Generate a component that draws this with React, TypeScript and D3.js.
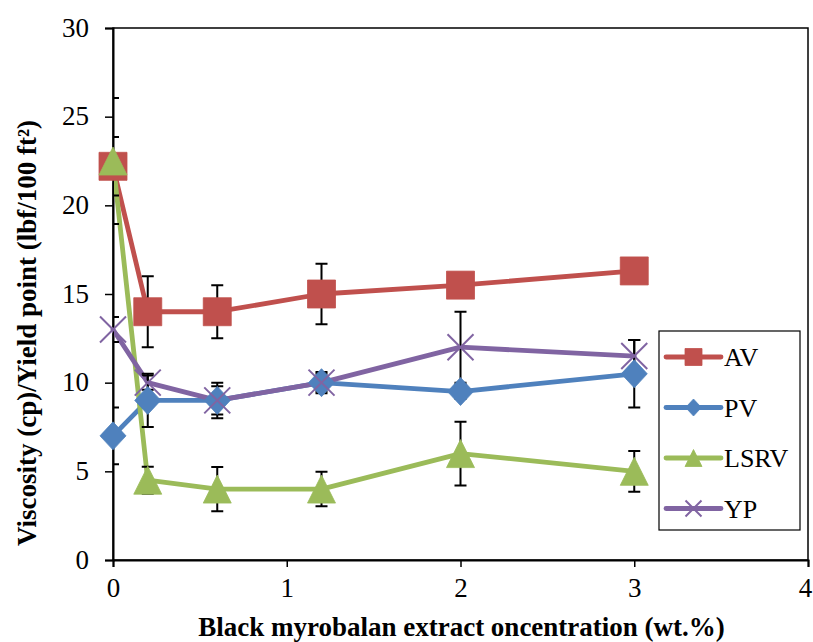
import React, { useEffect, useRef } from "react";
import * as d3 from "d3";

// Black myrobalan extract concentration (wt.%)
const concentrations = [0, 0.2, 0.6, 1.2, 2, 3];

// Rheological properties with standard deviations
const avValues = [22.2, 14, 14, 15, 15.5, 16.3];
const avErrors = [1.65, 2.0, 1.5, 1.7, 0.3, 0.3];
const pvValues = [7, 9, 9, 10, 9.5, 10.5];
const pvErrors = [1.6, 1.5, 1.0, 0.5, 0.4, 1.9];
const lsrvValues = [22.5, 4.5, 4, 4, 6, 5];
const lsrvErrors = [3.55, 0.76, 1.25, 0.97, 1.8, 1.15];
const ypValues = [13, 10, 9, 10, 12, 11.5];
const ypErrors = [0.7, 0.4, 0.8, 0.6, 2.0, 0.9];

const seriesNames = ["AV", "PV", "LSRV", "YP"];
const seriesColors = ["#C0504D", "#4F81BD", "#9BBB59", "#8064A2"];
const seriesMarkers = ["square", "diamond", "triangle", "cross"];

const xTicks = [0, 1, 2, 3, 4];
const yTicks = [0, 5, 10, 15, 20, 25, 30];

const xTitle = "Black myrobalan extract oncentration (wt.%)";
const yTitle = "Viscosity (cp)/Yield point (lbf/100 ft²)";

const W = 813;
const H = 642;
const plot = { left: 113, right: 808, top: 28, bottom: 560 };
const FONT = "'Liberation Serif', 'Times New Roman', serif";

function markerPath(kind: string, s: number): string {
  // s = half-size of the marker
  if (kind === "square") return `M${-s},${-s}H${s}V${s}H${-s}Z`;
  if (kind === "diamond") return `M0,${-s}L${s * 0.93},0L0,${s}L${-s * 0.93},0Z`;
  if (kind === "triangle") return `M0,${-s}L${s},${s}L${-s},${s}Z`;
  return `M${-s},${-s}L${s},${s}M${-s},${s}L${s},${-s}`;
}

function drawMarker(
  g: d3.Selection<SVGGElement, unknown, null, undefined>,
  kind: string,
  color: string,
  x: number,
  y: number,
  s: number
) {
  const p = g
    .append("path")
    .attr("d", markerPath(kind, s))
    .attr("transform", `translate(${x},${y})`);
  if (kind === "cross") {
    p.attr("fill", "none").attr("stroke", color).attr("stroke-width", 2);
  } else {
    p.attr("fill", color).attr("stroke", color).attr("stroke-width", 0.8);
  }
}

export default function App() {
  const ref = useRef<SVGSVGElement | null>(null);

  useEffect(() => {
    const svg = d3.select(ref.current);
    svg.selectAll("*").remove();

    const x = d3.scaleLinear().domain([0, 4]).range([plot.left, plot.right]);
    const y = d3.scaleLinear().domain([0, 30]).range([plot.bottom, plot.top]);

    const series = [
      { values: avValues, errors: avErrors },
      { values: pvValues, errors: pvErrors },
      { values: lsrvValues, errors: lsrvErrors },
      { values: ypValues, errors: ypErrors },
    ];

    svg
      .append("defs")
      .append("clipPath")
      .attr("id", "plot-clip")
      .append("rect")
      .attr("x", plot.left)
      .attr("y", plot.top)
      .attr("width", plot.right - plot.left)
      .attr("height", plot.bottom - plot.top);

    // Frame around the plot area
    svg
      .append("rect")
      .attr("x", plot.left)
      .attr("y", plot.top)
      .attr("width", plot.right - plot.left)
      .attr("height", plot.bottom - plot.top)
      .attr("fill", "white")
      .attr("stroke", "black")
      .attr("stroke-width", 1.5);

    // Axes
    const yAxis = svg
      .append("g")
      .attr("transform", `translate(${plot.left},0)`)
      .call(d3.axisLeft(y).tickValues(yTicks).tickSize(8).tickFormat(d3.format("d")));
    yAxis.select(".domain").attr("stroke", "black").attr("stroke-width", 2);
    yAxis.selectAll(".tick line").attr("stroke", "black").attr("stroke-width", 1.5);
    yAxis
      .selectAll(".tick text")
      .attr("x", -24)
      .attr("dy", "0.3em")
      .attr("font-family", FONT)
      .attr("font-size", 27)
      .attr("fill", "black");

    const xAxis = svg
      .append("g")
      .attr("transform", `translate(0,${plot.bottom})`)
      .call(d3.axisBottom(x).tickValues(xTicks).tickSize(7).tickFormat(d3.format("d")));
    xAxis.select(".domain").attr("stroke", "black").attr("stroke-width", 2);
    xAxis.selectAll(".tick line").attr("stroke", "black").attr("stroke-width", 1.5);
    xAxis
      .selectAll<SVGTextElement, number>(".tick text")
      .attr("y", 18)
      .attr("x", (d) => (d === 4 ? -3 : 0))
      .attr("dy", "0.71em")
      .attr("font-family", FONT)
      .attr("font-size", 27)
      .attr("fill", "black");
    svg.selectAll(".domain").attr("fill", "none");

    const line = d3
      .line<number>()
      .x((_, i) => x(concentrations[i]))
      .y((d) => y(d));

    // Series lines
    const linesG = svg.append("g");
    series.forEach((s, k) => {
      linesG
        .append("path")
        .attr("d", line(s.values) as string)
        .attr("fill", "none")
        .attr("stroke", seriesColors[k])
        .attr("stroke-width", 4.8)
        .attr("stroke-linejoin", "round")
        .attr("stroke-linecap", "round");
    });

    // Error bars
    const errG = svg.append("g").attr("clip-path", "url(#plot-clip)");
    series.forEach((s) => {
      s.values.forEach((v, i) => {
        const cx = x(concentrations[i]);
        const y1 = y(v + s.errors[i]);
        const y0 = y(v - s.errors[i]);
        errG
          .append("path")
          .attr("d", `M${cx},${y1}V${y0}M${cx - 6},${y1}H${cx + 6}M${cx - 6},${y0}H${cx + 6}`)
          .attr("stroke", "black")
          .attr("stroke-width", 2)
          .attr("fill", "none");
      });
    });

    // Markers
    const markG = svg.append("g");
    series.forEach((s, k) => {
      const size = seriesMarkers[k] === "cross" ? 13 : 14;
      s.values.forEach((v, i) => {
        drawMarker(markG, seriesMarkers[k], seriesColors[k], x(concentrations[i]), y(v), size);
      });
    });

    // Legend
    const legend = svg.append("g");
    legend
      .append("rect")
      .attr("x", 659)
      .attr("y", 331)
      .attr("width", 141)
      .attr("height", 199)
      .attr("fill", "white")
      .attr("stroke", "black")
      .attr("stroke-width", 1.2);
    seriesNames.forEach((name, k) => {
      const cy = 357 + k * 50.5;
      legend
        .append("line")
        .attr("x1", 666)
        .attr("x2", 721)
        .attr("y1", cy)
        .attr("y2", cy)
        .attr("stroke", seriesColors[k])
        .attr("stroke-width", 4.8)
        .attr("stroke-linecap", "round");
      drawMarker(legend, seriesMarkers[k], seriesColors[k], 693.5, cy, seriesMarkers[k] === "cross" ? 8 : 8.5);
      legend
        .append("text")
        .attr("x", 724)
        .attr("y", cy + 9)
        .attr("font-family", FONT)
        .attr("font-size", 26)
        .attr("fill", "black")
        .text(name);
    });

    // Axis titles
    svg
      .append("text")
      .attr("x", (plot.left + plot.right) / 2 + 1)
      .attr("y", 636)
      .attr("text-anchor", "middle")
      .attr("font-family", FONT)
      .attr("font-weight", "bold")
      .attr("font-size", 27)
      .attr("fill", "black")
      .text(xTitle);

    svg
      .append("text")
      .attr("transform", `translate(36,${333}) rotate(-90)`)
      .attr("text-anchor", "middle")
      .attr("font-family", FONT)
      .attr("font-weight", "bold")
      .attr("font-size", 27)
      .attr("fill", "black")
      .text(yTitle);
  }, []);

  return (
    <svg
      ref={ref}
      width={W}
      height={H}
      style={{ position: "absolute", left: 0, top: 0, background: "white" }}
    />
  );
}
